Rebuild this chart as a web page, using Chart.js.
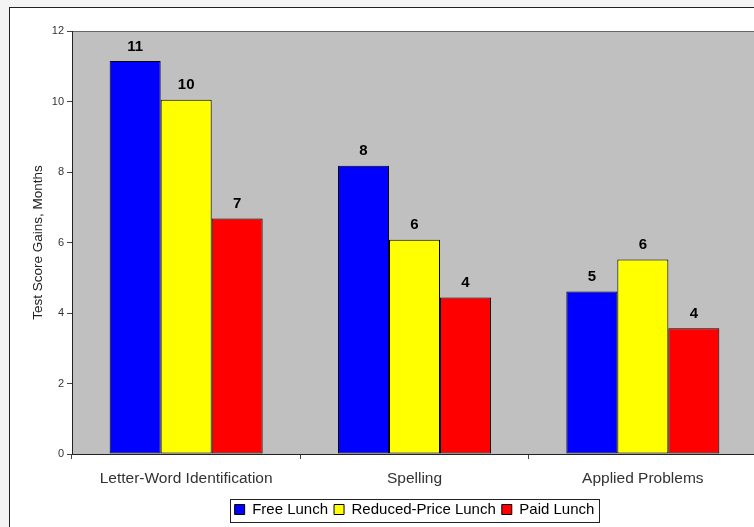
<!DOCTYPE html>
<html>
<head>
<meta charset="utf-8">
<script src="https://cdn.jsdelivr.net/npm/chart.js@4"></script>
<style>
  html, body { margin: 0; padding: 0; overflow: hidden; background: #fff; }
  #wrap { position: absolute; left: 0; top: 0; width: 770px; height: 527px; }
</style>
</head>
<body>
<div id="wrap"><canvas id="c" width="770" height="527"></canvas></div>
<script>
// categories + series (months)
var categories = ['Letter-Word Identification', 'Spelling', 'Applied Problems'];
var freeLunch = [11.15, 8.18, 4.61];
var reducedLunch = [10.05, 6.08, 5.52];
var paidLunch = [6.68, 4.44, 3.57];
var yTicks = [0, 2, 4, 6, 8, 10, 12];

var FONT = 'Arial, "Liberation Sans", sans-serif';

// gray plot area + frame + outer border
var frame = {
  id: 'frame',
  afterLayout: function (chart) {
    // centre the legend under the plot area, not the canvas
    var lg = chart.legend;
    if (lg) { lg.left = chart.chartArea.left; lg.right = chart.chartArea.right; }
  },
  beforeDraw: function (chart) {
    var ctx = chart.ctx, a = chart.chartArea;
    ctx.save();
    ctx.fillStyle = '#f4f4f4';
    ctx.fillRect(0, 0, chart.width, chart.height);
    ctx.fillStyle = '#ffffff';
    ctx.fillRect(9, 7, chart.width, chart.height);
    ctx.strokeStyle = '#222';
    ctx.lineWidth = 1;
    ctx.strokeRect(9.5, 7.5, chart.width + 10, chart.height + 10);
    ctx.fillStyle = '#c0c0c0';
    ctx.fillRect(a.left, a.top, a.right - a.left, a.bottom - a.top);
    ctx.strokeStyle = '#666';
    ctx.strokeRect(a.left + 0.5, a.top + 0.5, a.right - a.left, a.bottom - a.top);
    ctx.restore();
  },
  afterDraw: function (chart) {
    // box round the legend
    var lg = chart.legend;
    if (!lg || !lg.legendHitBoxes.length) return;
    var hb = lg.legendHitBoxes;
    var l = hb[0].left, r = hb[hb.length - 1].left + hb[hb.length - 1].width;
    var t = hb[0].top, h = hb[0].height;
    var ctx = chart.ctx;
    ctx.save();
    ctx.strokeStyle = '#222';
    ctx.lineWidth = 1;
    ctx.strokeRect(Math.round(l - 5) + 0.5, Math.round(t - 3) + 0.5, Math.round(r - l + 9), Math.round(h + 8));
    ctx.restore();
  }
};

// rounded values above bars
var valueLabels = {
  id: 'valueLabels',
  afterDatasetsDraw: function (chart) {
    var ctx = chart.ctx;
    ctx.save();
    ctx.font = 'bold 15px ' + FONT;
    ctx.fillStyle = '#000';
    ctx.textAlign = 'center';
    ctx.textBaseline = 'bottom';
    chart.data.datasets.forEach(function (ds, i) {
      chart.getDatasetMeta(i).data.forEach(function (bar, j) {
        ctx.fillText(String(Math.round(ds.data[j])), bar.x, bar.y - 7);
      });
    });
    ctx.restore();
  }
};

new Chart(document.getElementById('c'), {
  type: 'bar',
  data: {
    labels: categories,
    datasets: [
      { label: 'Free Lunch', data: freeLunch, backgroundColor: '#0000ff' },
      { label: 'Reduced-Price Lunch', data: reducedLunch, backgroundColor: '#ffff00' },
      { label: 'Paid Lunch', data: paidLunch, backgroundColor: '#ff0000' }
    ]
  },
  options: {
    responsive: false,
    animation: false,
    layout: { padding: { left: 0, top: 31, right: 13, bottom: 0 } },
    datasets: {
      bar: {
        borderColor: '#000',
        borderWidth: 1,
        borderSkipped: false,
        categoryPercentage: 0.67,
        barPercentage: 1
      }
    },
    plugins: {
      legend: {
        position: 'bottom',
        labels: {
          boxWidth: 10,
          boxHeight: 10,
          padding: 6,
          color: '#000',
          font: { family: FONT, size: 15 },
          generateLabels: function (chart) {
            return chart.data.datasets.map(function (ds, i) {
              return {
                text: ds.label,
                fillStyle: ds.backgroundColor,
                strokeStyle: '#000',
                lineWidth: 1,
                datasetIndex: i
              };
            });
          }
        }
      },
      tooltip: { enabled: false }
    },
    scales: {
      x: {
        grid: { display: true, drawOnChartArea: false, drawTicks: true, tickLength: 5, color: '#444', offset: true },
        border: { display: true, color: '#222' },
        ticks: { color: '#333', font: { family: FONT, size: 15.5 }, padding: 10 },
        afterFit: function (s) { s.height = 42; }
      },
      y: {
        min: 0,
        max: 12,
        afterBuildTicks: function (s) { s.ticks = yTicks.map(function (v) { return { value: v }; }); },
        grid: { display: true, drawOnChartArea: false, drawTicks: true, tickLength: 5, color: '#444' },
        border: { display: true, color: '#222' },
        ticks: { color: '#333', font: { family: FONT, size: 11 }, padding: 3 },
        title: { display: true, text: 'Test Score Gains, Months', color: '#222', font: { family: FONT, size: 13.5 }, padding: { top: 30, bottom: 0 } },
        afterFit: function (s) { s.width = 72; }
      }
    }
  },
  plugins: [frame, valueLabels]
});
</script>
</body>
</html>
